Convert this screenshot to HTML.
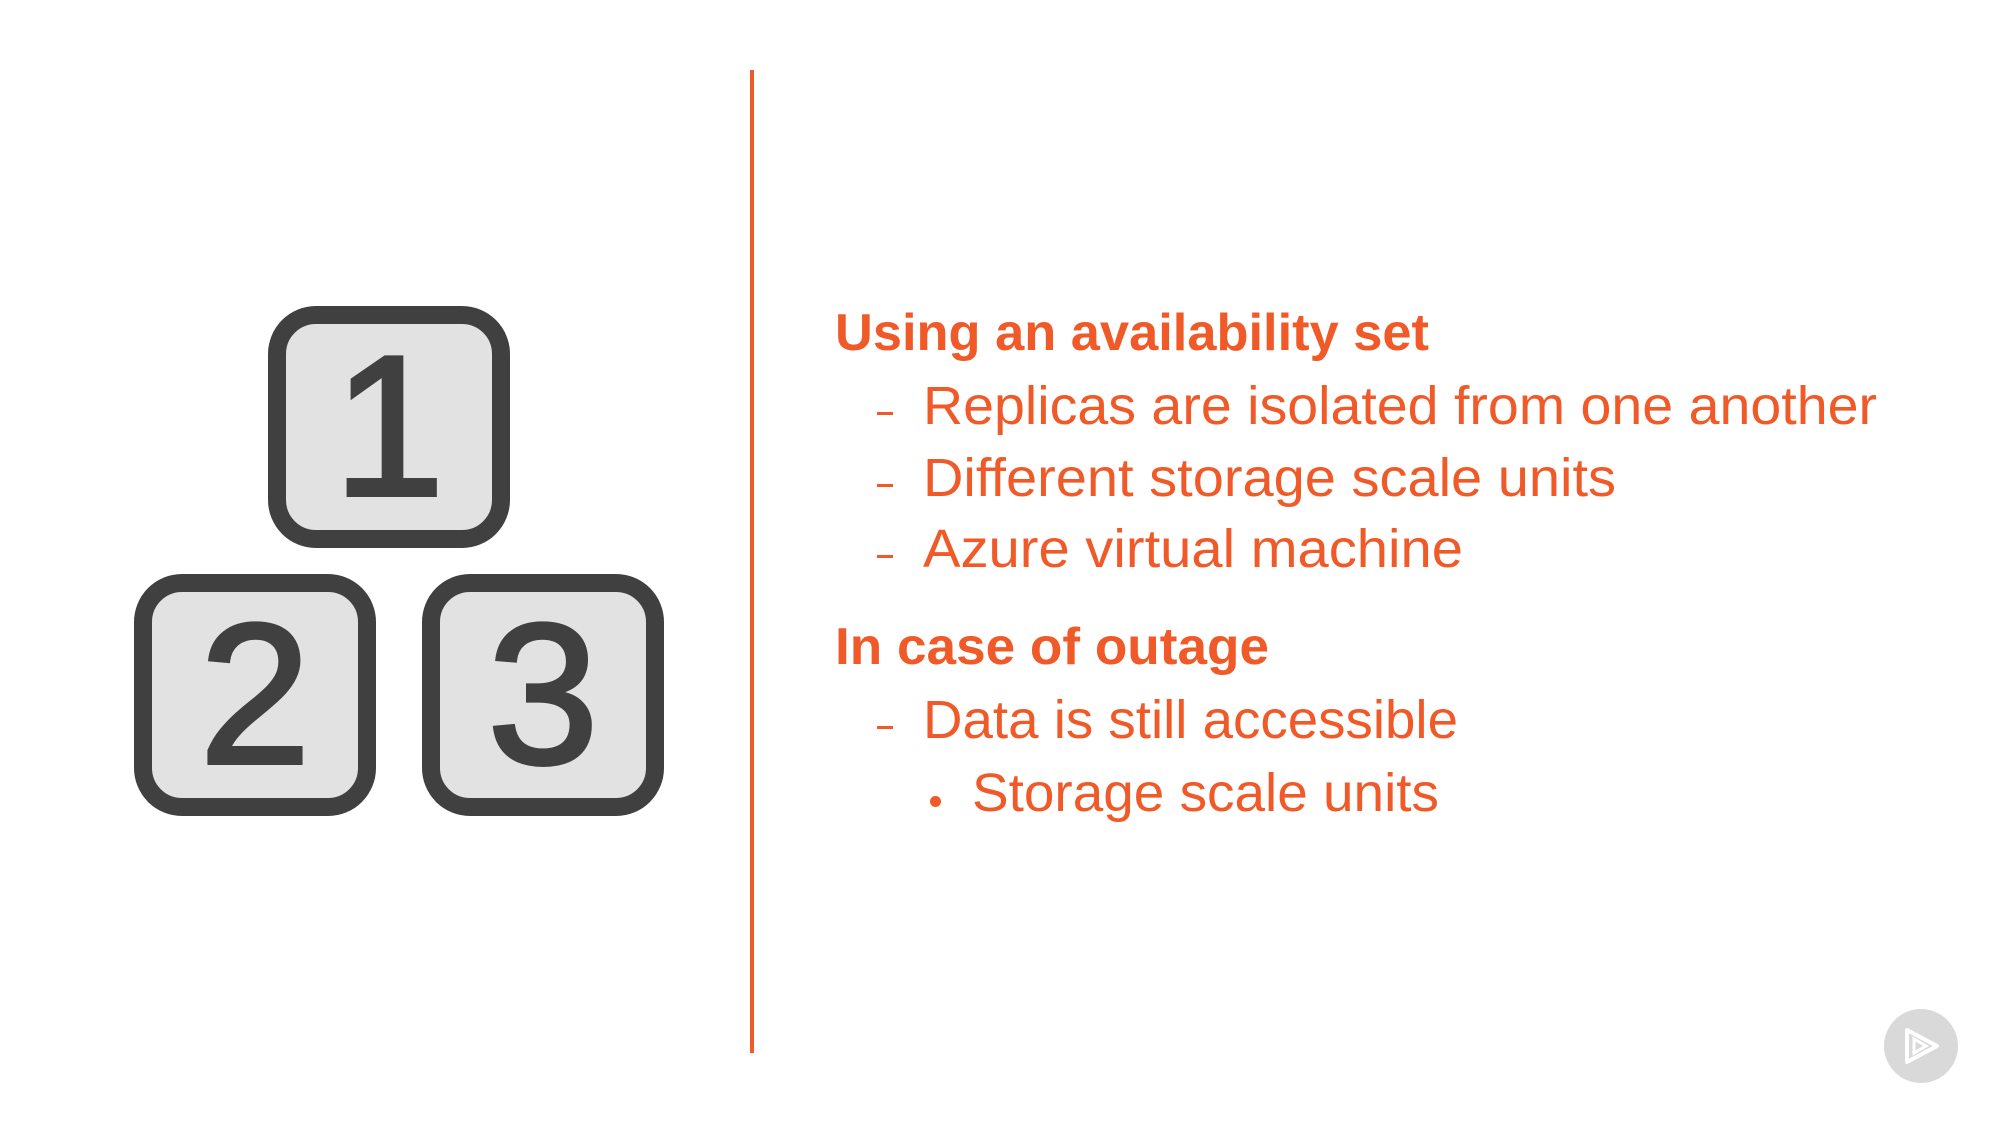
<!DOCTYPE html>
<html><head><meta charset="utf-8"><style>
html,body{margin:0;padding:0;width:2000px;height:1125px;background:#fff;overflow:hidden;position:relative;font-family:"Liberation Sans",sans-serif}
.vl{position:absolute;left:750px;top:70px;width:4px;height:983px;background:#f05a28}
.box{position:absolute;width:206px;height:206px;border:18px solid #404040;border-radius:48px;background:#e2e2e2;box-sizing:content-box;}
.box span{position:absolute;left:0;right:0;top:50%;transform:translateY(-50%);text-align:center;font-size:200px;line-height:200px;color:#404040;font-weight:normal;-webkit-text-stroke:4px #404040}
.t{position:absolute;color:#f05a28;white-space:nowrap;transform-origin:0 100%;line-height:1}
.h{font-weight:bold;font-size:52px}
.n{font-size:54px}
.d{position:absolute;color:#f05a28;background:#f05a28;height:3px;width:16px}
.dot{position:absolute;width:11px;height:11px;border-radius:50%;background:#f05a28}
</style></head><body>
<div class="vl"></div>
<div class="box" style="left:268px;top:306px"><span>1</span></div>
<div class="box" style="left:134px;top:574px"><span>2</span></div>
<div class="box" style="left:422px;top:574px"><span>3</span></div>

<div class="t h" data-w="594" style="left:835px;top:307px">Using an availability set</div>
<div class="d" style="left:877px;top:412px"></div>
<div class="t n" data-w="954" style="left:923px;top:379px">Replicas are isolated from one another</div>
<div class="d" style="left:877px;top:484px"></div>
<div class="t n" data-w="693" style="left:923px;top:451px">Different storage scale units</div>
<div class="d" style="left:877px;top:555px"></div>
<div class="t n" data-w="540" style="left:923px;top:522px">Azure virtual machine</div>
<div class="t h" data-w="434" style="left:835px;top:621px">In case of outage</div>
<div class="d" style="left:877px;top:726px"></div>
<div class="t n" data-w="535" style="left:923px;top:693px">Data is still accessible</div>
<div class="dot" style="left:930px;top:796px"></div>
<div class="t n" data-w="467" style="left:972px;top:766px">Storage scale units</div>

<svg style="position:absolute;left:1884px;top:1009px" width="74" height="74" viewBox="0 0 74 74">
<circle cx="37" cy="37" r="37" fill="#d9d9d9"/>
<path d="M23 21 L23 53 L53 37 Z" fill="none" stroke="#fff" stroke-width="4" stroke-linejoin="round"/>
<path d="M30 30 L30 44 L42 37 Z" fill="none" stroke="#fff" stroke-width="3"/>
</svg>
<script>
document.querySelectorAll('.t').forEach(function(e){
  var w=parseFloat(e.getAttribute('data-w'));var r=e.getBoundingClientRect().width;
  if(r>0)e.style.transform='scaleX('+(w/r)+')';
});
</script>
</body></html>
